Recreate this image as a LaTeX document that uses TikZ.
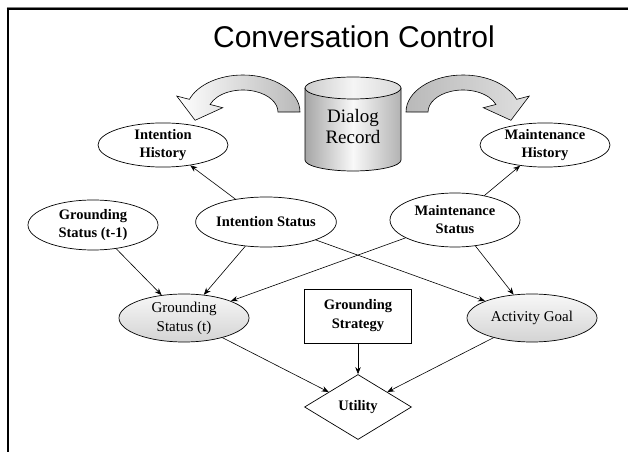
\documentclass[tikz,border=0pt]{standalone}
\usepackage{fontspec}
\setmainfont{Liberation Serif}
\newfontfamily\titlefont{Liberation Sans}
\usepackage{tikz}
\usetikzlibrary{arrows.meta,shapes.geometric}
\tikzset{
  hnode/.style={draw,ellipse,line width=0.7pt,fill=white,align=center,inner sep=0pt,minimum width=130pt,minimum height=#1,font=\fontsize{14.5}{18}\selectfont\bfseries},
  hnode/.default=48pt,
  gnode/.style={draw,ellipse,line width=0.7pt,top color=gray!6,bottom color=gray!34,align=center,inner sep=0pt,minimum width=130pt,minimum height=48pt,font=\fontsize{15}{19}\selectfont},
  dbox/.style={draw,rectangle,line width=0.9pt,align=center,minimum width=107pt,minimum height=54pt,inner sep=0pt,font=\fontsize{14.5}{19}\selectfont\bfseries},
  ubox/.style={draw,diamond,line width=0.7pt,minimum width=107pt,minimum height=65pt,inner sep=0pt,font=\fontsize{14.5}{18}\selectfont\bfseries},
  link/.style={-{Stealth[length=7pt,width=5.5pt]},line width=0.6pt},
}

\begin{document}
\begin{tikzpicture}[x=1pt,y=1pt]
  \useasboundingbox (0,0) rectangle (628,452);
  % frame
  \draw[gray,line width=1.2pt] (7,444.8) -- (628,444.8);
  \draw[line width=1.6pt] (6.7,443) -- (628,443);
  \draw[line width=2pt] (7.5,443.5) -- (7.5,0);
  \node[font=\titlefont\fontsize{30}{36}\selectfont] (title) at (354,415) {Conversation Control};

  % dialog record
  \shade[left color=gray!70,right color=gray!60,middle color=gray!5] (305,364) -- (305,292) arc[start angle=180,end angle=360,x radius=48,y radius=11] -- (401,364) -- cycle;
  \draw[line width=0.7pt] (305,364) -- (305,292) arc[start angle=180,end angle=360,x radius=48,y radius=11] -- (401,364);
  \shade[draw,line width=0.7pt,left color=gray!40,right color=gray!30,middle color=gray!8] (353,364) ellipse[x radius=48,y radius=11];
  \node[font=\fontsize{19}{21}\selectfont,align=center] (rec) at (353,325) {Dialog\\Record};

  % curved arrows
  \shade[draw,line width=0.6pt,left color=white,right color=gray!55] (300,340) arc[start angle=0,end angle=160,x radius=57,y radius=37]
    -- (176.8,355.9) -- (195.1,331.7) -- (222.7,344.3) -- (210.1,347.5) arc[start angle=160,end angle=0,x radius=35,y radius=22] -- cycle;
  \shade[draw,line width=0.6pt,left color=gray!55,right color=gray!25] (406,340) arc[start angle=180,end angle=20,x radius=57,y radius=37]
    -- (529.2,355.9) -- (510.9,331.7) -- (483.3,344.3) -- (495.9,347.5) arc[start angle=20,end angle=180,x radius=35,y radius=22] -- cycle;

  % nodes
  \node[hnode=44pt] (ih) at (163,307) {Intention\\History};
  \node[hnode=44pt] (mh) at (545,307) {Maintenance\\History};
  \node[hnode=50pt] (gs1) at (93,227) {Grounding\\Status (t-1)};
  \node[hnode=50pt] (ist) at (266,230) {Intention Status};
  \node[hnode=54pt] (ms) at (455,232) {Maintenance\\Status};
  \node[gnode] (gst) at (184,134) {Grounding\\Status (t)};
  \node[dbox] (gsg) at (358,136) {Grounding\\Strategy};
  \node[gnode] (ag) at (532,134) {Activity Goal};
  \node[ubox] (ut) at (358,45) {Utility};

  % links
  \draw[link] (ist) -- (ih);
  \draw[link] (ms) -- (mh);
  \draw[link] (gs1) -- (gst);
  \draw[link] (ist) -- (gst);
  \draw[link] (ms) -- (gst);
  \draw[link] (ist) -- (ag);
  \draw[link] (ms) -- (ag);
  \draw[link] (gst) -- (ut);
  \draw[link] (gsg) -- (ut);
  \draw[link] (ag) -- (ut);
\end{tikzpicture}
\end{document}
